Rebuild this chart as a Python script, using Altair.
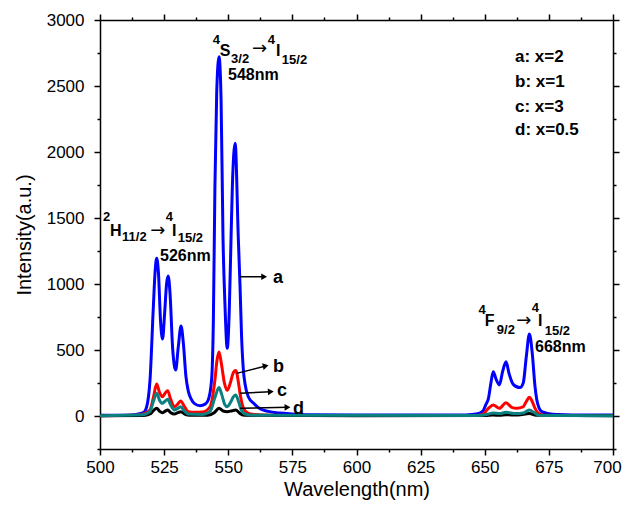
import altair as alt
import pandas as pd

FONT = "Liberation Sans"

# ---- spectra (wavelength nm, intensity a.u.) ----
wl_a = [500, 510, 514, 516.9, 518.2, 519.5, 520.8, 521.5, 522.1, 522.8, 523.6, 524.4, 525.2, 526.0, 526.6,
        527.3, 528.3, 529.5, 530.5, 531.6, 532.5, 533.5, 534.4, 535.5, 537.0, 539.0, 541.0, 542.2, 543.5,
        544.2, 544.8, 545.5, 546.4, 547.2, 547.95, 548.7, 549.6, 550.4, 551.1, 551.6, 552.7, 553.9, 554.6,
        555.2, 555.9, 556.5, 557.8, 560.0, 562.4, 565.6, 570, 575, 580, 600, 640, 645, 648, 649.4, 650.5,
        651.4, 652.4, 653.3, 654.4, 655.7, 657.0, 658.3, 659.5, 661.1, 663.7, 665.0, 666.2, 667.4, 668.5,
        669.6, 670.3, 671.2, 672.2, 675, 678, 690, 700]
int_a = [5, 6, 12, 25, 70, 273, 828, 1100, 1195, 1080, 720, 583, 780, 1010, 1061,
         930, 520, 348, 520, 682, 550, 300, 190, 130, 92, 78, 90, 121, 273,
         727, 1737, 2450, 2722, 2400, 1358, 854, 513, 800, 1358, 1737, 2066, 1358, 980,
         600, 348, 248, 146, 95, 55, 35, 22, 15, 10, 8, 8, 12, 22, 40, 90,
         130, 250, 336, 280, 235, 340, 411, 320, 240, 215, 250, 450, 621, 480,
         222, 121, 60, 33, 18, 12, 8, 8]

wl_b = [500, 514, 516.9, 519.5, 520.8, 522.1, 523.2, 524.3, 525.3, 526.4, 527.5, 529.0, 530.3, 531.5, 532.8,
        534.4, 537, 540, 542.9, 544.8, 545.6, 546.4, 547.3, 548.5, 549.6, 550.8, 551.8, 552.9, 554.0, 554.6,
        555.9, 557.5, 560, 565, 580, 645, 649, 651.4, 653.3, 655.7, 658.3, 660.5, 662.5, 665, 666.2,
        667.4, 668.5, 669.6, 670.9, 673, 680, 700]
int_b = [2, 5, 15, 45, 140, 242, 180, 146, 170, 192, 130, 70, 90, 114, 75,
         33, 28, 30, 70, 273, 420, 485, 400, 250, 195, 250, 320, 345, 250, 170,
         60, 25, 12, 6, 3, 3, 10, 58, 83, 58, 101, 65, 58, 70, 110,
         142, 110, 58, 20, 6, 3, 3]

wl_c = [500, 516.9, 519.5, 520.8, 522.1, 523.2, 524.3, 525.3, 526.4, 527.5, 529.0, 530.3, 531.5, 532.8, 534.4,
        540, 542.9, 544.8, 546.4, 547.5, 548.7, 549.6, 550.8, 552.0, 552.9, 554.0, 555.0, 556.5, 560, 645,
        649, 651.4, 653.3, 655.7, 658.3, 662, 665, 667.4, 669.3, 671, 680, 700]
int_c = [2, 10, 35, 110, 172, 120, 96, 112, 126, 85, 45, 58, 70, 40, 15,
         12, 35, 140, 215, 160, 85, 70, 100, 145, 159, 110, 50, 15, 5, 3,
         5, 15, 22, 18, 28, 18, 22, 45, 25, 6, 3, 2]

wl_d = [500, 517, 519.5, 520.8, 522.1, 523.3, 524.3, 525.3, 526.4, 527.6, 529.0, 530.3, 531.5, 533.0, 535,
        542, 544.5, 546.4, 548.0, 549.6, 551.5, 552.9, 554.5, 556.5, 600, 650, 653.3, 655.7, 658.3, 663,
        667.4, 670, 700]
int_d = [1, 3, 15, 40, 58, 35, 25, 35, 45, 25, 15, 25, 33, 15, 5,
         5, 25, 58, 38, 33, 40, 45, 20, 5, 2, 3, 8, 5, 10, 7,
         18, 6, 1]

# ---- axis ticks ----
x_tick_values = [500 + 12.5 * i for i in range(17)]
y_tick_values = [-250 + 250 * i for i in range(14)]

# ---- annotation texts (placed in data units) ----
term_text = ["S", "I", "548nm", "H", "I", "526nm", "F", "I", "668nm"]
term_x = [546.7, 568.6, 549.9, 503.9, 528.1, 523.4, 650.0, 670.8, 669.6]
term_y = [2765, 2765, 2583, 1402, 1402, 1212, 720, 720, 523]

small_text = ["4", "3/2", "4", "15/2", "2", "11/2", "4", "15/2", "4", "9/2", "4", "15/2"]
small_x = [544.0, 551.1, 565.4, 570.9, 501.2, 508.6, 525.6, 530.3, 647.6, 654.7, 668.3, 673.4]
small_y = [2848, 2705, 2848, 2697, 1510, 1356, 1508, 1348, 803, 652, 818, 644]

arrow_glyph_x = [559.3, 519.6, 662.3]
arrow_glyph_y = [2780, 1400, 718]

legend_text = ["a: x=2", "b: x=1", "c: x=3", "d: x=0.5"]
legend_x = [661.8, 661.8, 661.8, 661.8]
legend_y = [2720, 2530, 2341, 2167]

curve_labels = ["a", "b", "c", "d"]
curve_label_x = [567.4, 567.4, 569.0, 575.2]
curve_label_y = [1049, 371, 189, 53]

pointer_x = [554.6, 553.3, 554.6, 554.6]
pointer_y = [1055, 323, 172, 58]
pointer_x2 = [564.0, 564.6, 566.6, 573.1]
pointer_y2 = [1055, 379, 184, 66]
pointer_angle = [0, 347, 357, 359]


def spectrum(wl, inten, name):
    return pd.DataFrame({"wavelength": wl, "intensity": inten, "sample": name})


x_scale = alt.Scale(domain=[500, 700], nice=False, zero=False)
y_scale = alt.Scale(domain=[-250, 3000], nice=False, zero=False)

x_tick_size = {"condition": {"test": "datum.value % 25 !== 0", "value": 3}, "value": 6}
y_tick_size = {"condition": {"test": "datum.value % 500 !== 0", "value": 3}, "value": 6}

common_axis = dict(domainColor="black", domainWidth=1.5, tickColor="black", tickWidth=1.5, grid=False,
                   labelFont=FONT, labelFontSize=17, labelColor="black", titleFont=FONT, titleFontSize=20,
                   titleFontWeight="normal", titleColor="black", labelOverlap=False, labelFlush=False)

x_axis_bottom = alt.Axis(orient="bottom", values=x_tick_values, tickSize=x_tick_size,
                         labelExpr="datum.value % 25 === 0 ? format(datum.value, 'd') : ''",
                         labelOffset={"condition": {"test": "datum.value === 700", "value": -6}, "value": 0},
                         title="Wavelength(nm)", labelPadding=4, titlePadding=4, **common_axis)
y_axis_left = alt.Axis(orient="left", values=y_tick_values, tickSize=y_tick_size,
                       labelExpr="datum.value % 500 === 0 ? format(datum.value, 'd') : ''",
                       title="Intensity(a.u.)", labelPadding=10, titlePadding=12, **common_axis)
x_axis_top = alt.Axis(orient="top", values=x_tick_values, tickSize=x_tick_size, labels=False, title="",
                      **common_axis)
y_axis_right = alt.Axis(orient="right", values=y_tick_values, tickSize=y_tick_size, labels=False, title="",
                        **common_axis)


def ex(field="wavelength", axis=None):
    return alt.X(f"{field}:Q", scale=x_scale, axis=axis)


def ey(field="intensity", axis=None):
    return alt.Y(f"{field}:Q", scale=y_scale, axis=axis)


def line(df, color, xa=None, ya=None, opacity=1):
    return alt.Chart(df).mark_line(color=color, strokeWidth=3, interpolate="monotone", opacity=opacity).encode(
        x=ex(axis=xa), y=ey(axis=ya))


df_a = spectrum(wl_a, int_a, "a")
df_b = spectrum(wl_b, int_b, "b")
df_c = spectrum(wl_c, int_c, "c")
df_d = spectrum(wl_d, int_d, "d")

blue = line(df_a, "#0000FF", x_axis_bottom, y_axis_left)
red = line(df_b, "#FF0000")
black = line(df_d, "#000000")
teal = line(df_c, "#0A8080")
mirror = line(df_a, "#000000", x_axis_top, y_axis_right, opacity=0)


def text_layer(texts, xs, ys, size, weight="bold", font=FONT):
    df = pd.DataFrame({"wavelength": xs, "intensity": ys, "label": texts})
    return alt.Chart(df).mark_text(font=font, fontWeight=weight, fontSize=size, align="left",
                                   baseline="middle", color="black").encode(
        x=ex(), y=ey(), text="label:N")


terms = text_layer(term_text, term_x, term_y, 16)
smalls = text_layer(small_text, small_x, small_y, 13)
glyphs = text_layer(["\u2192"] * 3, arrow_glyph_x, arrow_glyph_y, 18, weight="normal", font="DejaVu Sans")
legend = text_layer(legend_text, legend_x, legend_y, 17)
labels = text_layer(curve_labels, curve_label_x, curve_label_y, 18)

ptr_df = pd.DataFrame({"wavelength": pointer_x, "intensity": pointer_y,
                       "wl2": pointer_x2, "int2": pointer_y2, "angle": pointer_angle})
pointer_lines = alt.Chart(ptr_df).mark_rule(color="black", strokeWidth=1.5).encode(
    x=ex(), y=ey(), x2="wl2:Q", y2="int2:Q")
pointer_heads = alt.Chart(ptr_df).mark_point(shape="triangle-right", filled=True, color="black",
                                             size=45, opacity=1).encode(
    x=ex("wl2"), y=ey("int2"), angle=alt.Angle("angle:Q", scale=None))

chart = alt.layer(
    blue, red, black, teal, mirror, terms, smalls, glyphs, legend, labels, pointer_lines, pointer_heads
).resolve_axis(x="independent", y="independent").properties(
    width=513, height=429,
    padding={"left": 92, "top": 12, "right": 9, "bottom": 54},
    autosize=alt.AutoSizeParams(type="none"),
    background="white",
).configure_view(stroke="transparent")

chart.save("out.html", embed_options={"renderer": "svg", "actions": False})
